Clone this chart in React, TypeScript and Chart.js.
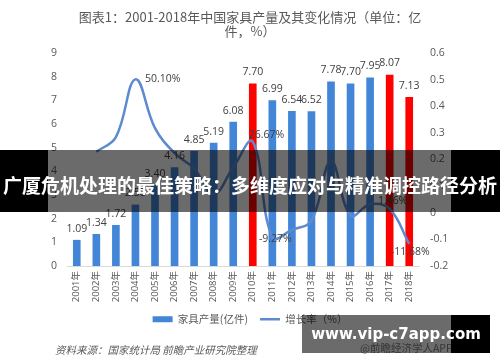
import { useEffect, useRef } from 'react';
import { Chart, registerables } from 'chart.js';

Chart.register(...registerables);

const years = ['2001年', '2002年', '2003年', '2004年', '2005年', '2006年', '2007年', '2008年', '2009年', '2010年', '2011年', '2012年', '2013年', '2014年', '2015年', '2016年', '2017年', '2018年'];
const production = [1.09, 1.34, 1.72, 2.58, 3.4, 4.16, 4.85, 5.19, 6.08, 7.7, 6.99, 6.54, 6.52, 7.78, 7.7, 7.95, 8.07, 7.13];
const growth = [null, 0.229, 0.284, 0.501, 0.318, 0.224, 0.166, 0.07, 0.171, 0.2667, -0.0927, -0.064, -0.03, 0.193, -0.01, 0.032, 0.0146, -0.1168];
const highlightYears = ['2010年', '2017年', '2018年'];
const labeledGrowthYears = ['2004年', '2010年', '2011年', '2017年', '2018年'];
const leftAxis = { min: 0, max: 9, step: 1 };
const rightAxis = { min: -0.2, max: 0.6, step: 0.1 };
const titleLines = ['图表1：2001-2018年中国家具产量及其变化情况（单位：亿', '件，%）'];
const seriesNames = ['家具产量(亿件)', '增长率（%）'];

// label placement (style, not data)
const growthLabelPlacement: Record<string, { dx: number; dy: number; align: CanvasTextAlign }> = {
  '2004年': { dx: 9.5, dy: 0, align: 'left' },
  '2010年': { dx: -4, dy: -7, align: 'left' },
  '2011年': { dx: 3, dy: 2, align: 'center' },
  '2017年': { dx: 3, dy: -8, align: 'center' },
  '2018年': { dx: 1, dy: 8, align: 'center' },
};

const BLUE = '#4386D8';
const RED = '#FF0000';
const LINE = '#5E8BCF';
const TEXT = '#595959';
const LATIN = "'Open Sans', 'Noto Sans CJK SC', sans-serif";
const CJK = "'Noto Sans CJK SC', sans-serif";

const labelPlugin = {
  id: 'valueLabels',
  afterDatasetsDraw(chart: any) {
    const ctx = chart.ctx;
    ctx.save();
    ctx.font = `10.5px ${LATIN}`;
    ctx.fillStyle = '#404040';
    ctx.textBaseline = 'middle';
    ctx.textAlign = 'center';
    const barMeta = chart.getDatasetMeta(0);
    barMeta.data.forEach((el: any, i: number) => {
      ctx.fillText(production[i].toFixed(2), el.x, el.y - 11.5);
    });
    const lineMeta = chart.getDatasetMeta(1);
    lineMeta.data.forEach((el: any, i: number) => {
      const yr = years[i];
      if (!labeledGrowthYears.includes(yr)) return;
      const v = growth[i];
      if (v === null) return;
      const p = growthLabelPlacement[yr];
      ctx.textAlign = p.align;
      ctx.fillText((v * 100).toFixed(2) + '%', el.x + p.dx, el.y + p.dy);
    });
    ctx.restore();
  },
};

export default function App() {
  const ref = useRef<HTMLCanvasElement | null>(null);
  useEffect(() => {
    if (!ref.current) return;
    const chart = new Chart(ref.current, {
      type: 'bar',
      data: {
        labels: years,
        datasets: [
          {
            type: 'bar',
            label: seriesNames[0],
            data: production,
            backgroundColor: years.map((y) => (highlightYears.includes(y) ? RED : BLUE)),
            barThickness: 7,
            yAxisID: 'y',
            order: 2,
          },
          {
            type: 'line',
            label: seriesNames[1],
            data: growth,
            borderColor: LINE,
            backgroundColor: LINE,
            borderWidth: 2.5,
            pointRadius: 0,
            tension: 0.4,
            yAxisID: 'y1',
            order: 1,
          },
        ],
      } as any,
      options: {
        responsive: false,
        animation: false,
        devicePixelRatio: 1,
        layout: { padding: { left: 0, right: 0, top: 0, bottom: 27.5 } },
        plugins: {
          tooltip: { enabled: false },
          title: {
            display: true,
            text: titleLines,
            color: TEXT,
            font: { family: CJK, size: 13, weight: 'normal', lineHeight: 1.1 },
            padding: { top: 10, bottom: 14.4 },
          },
          legend: {
            display: true,
            position: 'bottom',
            labels: {
              color: TEXT,
              font: { family: CJK, size: 10.5 },
              usePointStyle: true,
              pointStyleWidth: 20,
              boxHeight: 6,
              padding: 12,
              sort: (a: any, b: any) => a.datasetIndex - b.datasetIndex,
              generateLabels: (c: any) => {
                const items = (Chart.defaults.plugins.legend.labels as any).generateLabels(c);
                return items.map((it: any) =>
                  it.datasetIndex === 0
                    ? { ...it, pointStyle: 'rect', fillStyle: BLUE, strokeStyle: BLUE, lineWidth: 0 }
                    : { ...it, pointStyle: 'line', fillStyle: LINE, strokeStyle: LINE, lineWidth: 2.5 }
                );
              },
            },
          },
        },
        scales: {
          x: {
            grid: { display: true, drawOnChartArea: false, drawTicks: false },
            border: { display: true, color: '#D9D9D9', width: 1 },
            ticks: {
              color: TEXT,
              font: { family: LATIN, size: 9.5 },
              maxRotation: 90,
              minRotation: 90,
              padding: 5,
              autoSkip: false,
            },
            afterFit: (s: any) => {
              s.height = 36;
            },
          },
          y: {
            position: 'left',
            min: leftAxis.min,
            max: leftAxis.max,
            grid: { display: false, drawTicks: false },
            border: { display: false },
            ticks: {
              stepSize: leftAxis.step,
              color: TEXT,
              font: { family: LATIN, size: 10.5 },
              padding: 10,
            },
            afterFit: (s: any) => {
              s.width = 67;
            },
          },
          y1: {
            position: 'right',
            min: rightAxis.min,
            max: rightAxis.max,
            grid: { display: false, drawTicks: false },
            border: { display: false },
            ticks: {
              stepSize: rightAxis.step,
              color: TEXT,
              font: { family: LATIN, size: 10.5 },
              padding: 11,
              callback: (v: any) => String(Number(Number(v).toFixed(1))),
            },
            afterFit: (s: any) => {
              s.width = 81;
            },
          },
        },
      } as any,
      plugins: [labelPlugin],
    });
    return () => chart.destroy();
  }, []);

  return (
    <div style={{ position: 'absolute', left: 0, top: 0, width: 500, height: 362, background: '#fff', overflow: 'hidden' }}>
      <canvas ref={ref} width={500} height={362} style={{ display: 'block' }} />
      <div style={{ position: 'absolute', left: 55, top: 343, fontFamily: CJK, fontStyle: 'italic', fontSize: 10.5, lineHeight: '14px', color: TEXT, whiteSpace: 'nowrap' }}>
        资料来源：国家统计局 前瞻产业研究院整理
      </div>
      <div style={{ position: 'absolute', left: 360, top: 341, fontFamily: CJK, fontSize: 10.5, lineHeight: '14px', color: '#7f7f7f', whiteSpace: 'nowrap' }}>
        @前瞻经济学人APP
      </div>
      {/* banner */}
      <div style={{ position: 'absolute', left: 0, top: 150, width: 48, height: 62, background: '#000' }} />
      <div style={{ position: 'absolute', left: 48, top: 150, width: 403, height: 62, background: 'rgba(0,0,0,0.58)' }} />
      <div style={{ position: 'absolute', left: 451, top: 150, width: 49, height: 62, background: '#000' }} />
      <div style={{ position: 'absolute', left: 0, top: 150, width: 500, height: 62, display: 'flex', alignItems: 'center', justifyContent: 'center', paddingTop: 6, boxSizing: 'border-box', color: '#fff', fontFamily: CJK, fontWeight: 700, fontSize: 19, whiteSpace: 'nowrap' }}>
        广厦危机处理的最佳策略：多维度应对与精准调控路径分析
      </div>
      {/* watermark box */}
      <div style={{ position: 'absolute', left: 302, top: 315, width: 149, height: 38, background: 'rgba(0,0,0,0.58)' }} />
      <div style={{ position: 'absolute', left: 451, top: 315, width: 39, height: 38, background: '#000' }} />
      <div style={{ position: 'absolute', left: 302, top: 315, width: 188, height: 38, display: 'flex', alignItems: 'center', justifyContent: 'center', color: '#fff', fontFamily: "'DejaVu Sans', sans-serif", fontWeight: 700, fontSize: 15, whiteSpace: 'nowrap' }}>
        www.vip-c7app.com
      </div>
    </div>
  );
}
